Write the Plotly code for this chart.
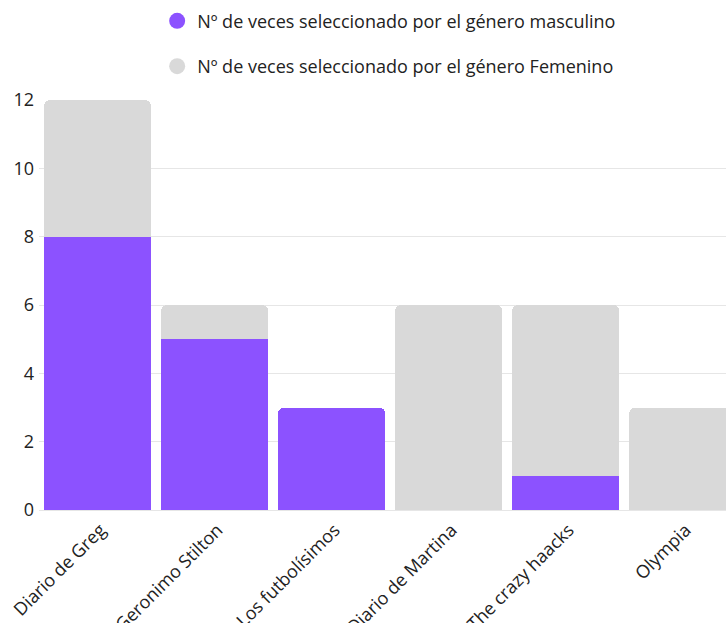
import plotly.graph_objects as go

categories = ["Diario de Greg", "Geronimo Stilton", "Los futbolísimos",
              "Diario de Martina", "The crazy haacks", "Olympia"]
masculino = [8, 5, 3, 0, 1, 0]
femenino = [4, 1, 0, 6, 5, 3]
name_m = "Nº de veces seleccionado por el género masculino"
name_f = "Nº de veces seleccionado por el género Femenino"

PURPLE = "#8C52FF"
GRAY = "#D9D9D9"

fig = go.Figure()
fig.add_trace(go.Bar(x=categories, y=masculino, marker_color=PURPLE,
                     showlegend=False, marker_line_width=0))
fig.add_trace(go.Bar(x=categories, y=femenino, marker_color=GRAY,
                     showlegend=False, marker_line_width=0))
fig.add_trace(go.Scatter(x=[None], y=[None], mode="markers", name=name_m,
                         marker=dict(color=PURPLE, size=16, symbol="circle"),
                         legendgroup="m"))
fig.add_trace(go.Scatter(x=[None], y=[None], mode="markers", name=name_f,
                         marker=dict(color=GRAY, size=16, symbol="circle"),
                         legendgroup="f"))

fig.update_layout(
    width=726, height=623,
    margin=dict(l=39, r=0, t=100, b=113, autoexpand=False),
    barmode="stack", bargap=0.085, barcornerradius=6,
    plot_bgcolor="white", paper_bgcolor="white",
    font=dict(family="Open Sans", size=18, color="#222222"),
    legend=dict(x=0.172, y=1.2376, xanchor="left", yanchor="top",
                traceorder="grouped", tracegroupgap=19,
                font=dict(size=18, color="#222222")),
    xaxis=dict(range=[-0.5, 5.37], tickangle=-45, showgrid=False,
               showline=False, ticks="", tickfont=dict(size=18),
               automargin=False, ticklabelstandoff=5, ticklabelshift=3),
    yaxis=dict(range=[0, 12], dtick=2, gridcolor="#E6E6E6", gridwidth=1,
               zeroline=True, zerolinecolor="#E6E6E6", zerolinewidth=1,
               showline=False, ticks="", tickfont=dict(size=18),
               automargin=False, ticklabelstandoff=4),
)

fig.write_html("out.html")
